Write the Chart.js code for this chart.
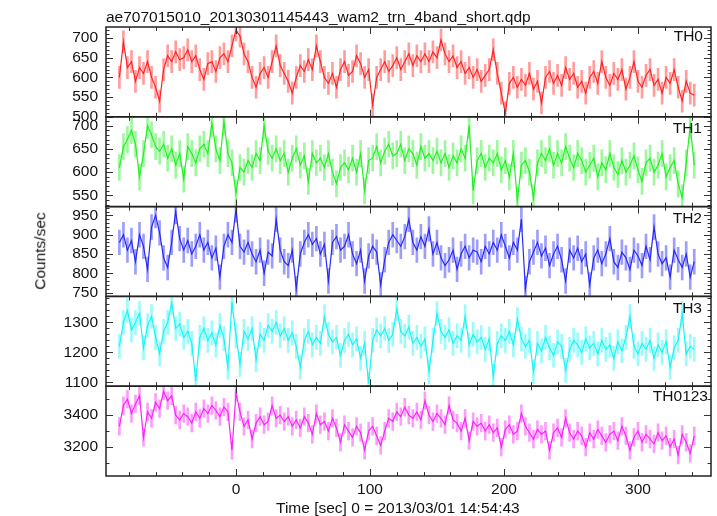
<!DOCTYPE html>
<html>
<head>
<meta charset="utf-8">
<script src="https://cdn.jsdelivr.net/npm/chart.js@4.4.1/dist/chart.umd.min.js"></script>
<style>
  body { margin: 0; background: #fff; }
  #wrap { position: relative; width: 717px; height: 516px; font-family: "Liberation Sans", Arial, sans-serif; color: #111; }
  canvas { position: absolute; left: 0; top: 0; }
  .lbl { position: absolute; font-size: 15.5px; line-height: 1; white-space: nowrap; }
</style>
</head>
<body>
<div id="wrap">
  <canvas id="lc" width="717" height="516"></canvas>
  <div class="lbl" style="left:106px; top:9px">ae707015010_20130301145443_wam2_trn_4band_short.qdp</div>
  <div class="lbl" style="left:40px; top:251px; transform: translate(-50%, -50%) rotate(-90deg)">Counts/sec</div>
  <div class="lbl" style="left:276px; top:500px">Time [sec] 0 = 2013/03/01 14:54:43</div>
  <div class="lbl" style="right:14px; top:28px">TH0</div>
  <div class="lbl" style="right:15px; top:120px">TH1</div>
  <div class="lbl" style="right:15px; top:210px">TH2</div>
  <div class="lbl" style="right:15px; top:300px">TH3</div>
  <div class="lbl" style="right:9px; top:388px">TH0123</div>
</div>
<script>
// light curve bins: start time and width (sec from 2013/03/01 14:54:43)
const binStart = -87;
const binSize = 3;

// count rates, one array per band
const th0Rate = [
  600, 690, 625, 640, 590, 625, 610, 640, 600, 575, 540, 620,
  655, 640, 665, 645, 650, 670, 640, 655, 620, 595, 635, 640,
  615, 650, 660, 640, 680, 720, 705, 660, 640, 600, 575, 610,
  625, 600, 640, 680, 630, 610, 590, 560, 600, 630, 615, 645,
  620, 680, 640, 600, 585, 610, 575, 620, 640, 605, 615, 655,
  635, 600, 620, 530, 600, 620, 640, 615, 630, 650, 620, 640,
  660, 630, 655, 640, 660, 640, 665, 650, 695, 660, 640, 655,
  625, 640, 610, 625, 600, 620, 590, 605, 620, 670, 610, 560,
  510, 585, 600, 575, 595, 580, 610, 570, 590, 535, 600, 615,
  585, 605, 580, 625, 595, 610, 575, 590, 560, 600, 615, 585,
  640, 600, 580, 610, 595, 620, 570, 600, 640, 590, 575, 605,
  620, 580, 595, 560, 600, 585, 620, 575, 540, 590, 560, 555
];
const th1Rate = [
  610, 655, 670, 690, 660, 590, 640, 700, 680, 655, 645, 660,
  630, 650, 615, 640, 585, 655, 640, 620, 650, 660, 640, 705,
  650, 625, 710, 640, 620, 555, 610, 600, 625, 610, 640, 625,
  700, 645, 630, 650, 625, 640, 600, 630, 650, 615, 635, 580,
  640, 620, 630, 610, 640, 600, 575, 610, 620, 605, 630, 600,
  640, 560, 625, 630, 655, 620, 645, 660, 635, 640, 660, 625,
  650, 640, 615, 655, 630, 640, 625, 645, 620, 640, 610, 635,
  620, 650, 630, 700, 560, 625, 640, 610, 630, 620, 640, 605,
  625, 590, 640, 540, 615, 625, 600, 545, 620, 640, 625, 650,
  615, 640, 620, 655, 630, 610, 640, 625, 600, 615, 630, 590,
  620, 605, 640, 610, 595, 625, 600, 615, 635, 605, 580, 620,
  630, 600, 615, 640, 590, 610, 625, 575, 545, 620, 700, 615
];
const th2Rate = [
  880, 900, 860, 885, 830, 900, 870, 810, 920, 950, 905, 840,
  815, 880, 960, 890, 860, 885, 850, 870, 900, 860, 880, 840,
  865, 790, 870, 900, 880, 965, 870, 855, 880, 850, 830, 860,
  800, 855, 845, 940, 860, 830, 820, 860, 760, 850, 880, 900,
  875, 890, 850, 875, 780, 880, 895, 860, 870, 900, 850, 825,
  860, 780, 845, 870, 855, 770, 835, 880, 900, 885, 870, 895,
  940, 880, 860, 895, 870, 915, 850, 880, 840, 820, 835, 860,
  810, 850, 870, 840, 860, 855, 830, 870, 850, 880, 860, 900,
  870, 840, 880, 860, 940, 760, 830, 855, 880, 845, 865, 820,
  850, 870, 835, 780, 860, 840, 865, 830, 850, 770, 840, 860,
  825, 850, 890, 830, 815, 855, 840, 810, 860, 845, 820, 870,
  835, 920, 850, 825, 840, 790, 860, 835, 815, 850, 790, 830
];
const th3Rate = [
  1220, 1300, 1340, 1275, 1300, 1330, 1215, 1290, 1320, 1250, 1195, 1270,
  1300, 1365, 1280, 1295, 1250, 1270, 1230, 1105, 1250, 1280, 1240, 1265,
  1225, 1290, 1245, 1150, 1370, 1255, 1160, 1270, 1245, 1280, 1175, 1260,
  1240, 1290, 1270, 1300, 1255, 1280, 1240, 1265, 1220, 1150, 1240, 1270,
  1225, 1250, 1230, 1320, 1260, 1235, 1250, 1190, 1240, 1260, 1225, 1245,
  1180, 1230, 1095, 1240, 1275, 1255, 1280, 1240, 1260, 1345, 1270, 1255,
  1285, 1230, 1250, 1220, 1245, 1135, 1240, 1330, 1270, 1250, 1275, 1230,
  1255, 1240, 1320, 1225, 1260, 1235, 1250, 1210, 1245, 1120, 1230, 1255,
  1240, 1270, 1225, 1310, 1245, 1220, 1240, 1135, 1230, 1205, 1250, 1215,
  1190, 1235, 1220, 1140, 1210, 1240, 1225, 1200, 1245, 1215, 1230, 1195,
  1240, 1210, 1225, 1180, 1235, 1205, 1250, 1320, 1220, 1195, 1230, 1210,
  1240, 1180, 1225, 1200, 1235, 1150, 1215, 1240, 1330, 1195, 1220, 1210
];
const th0123Rate = [
  3330, 3460, 3500, 3410, 3470, 3520, 3260, 3420, 3380, 3480, 3440, 3550,
  3490, 3520, 3400, 3370, 3410, 3390, 3350, 3420, 3380, 3440, 3410, 3460,
  3430, 3390, 3450, 3420, 3180, 3540, 3420, 3330, 3370, 3250, 3350, 3390,
  3340, 3360, 3460, 3380, 3400, 3360, 3390, 3330, 3370, 3320, 3390, 3350,
  3280, 3410, 3340, 3360, 3300, 3380, 3320, 3230, 3340, 3300, 3260, 3330,
  3290, 3180, 3300, 3330, 3270, 3210, 3300, 3380, 3360, 3420, 3390, 3450,
  3400, 3380, 3420, 3370, 3490, 3400, 3360, 3410, 3380, 3340, 3460, 3370,
  3350, 3300, 3380, 3240, 3360, 3330, 3350, 3300, 3340, 3290, 3320, 3200,
  3310, 3340, 3280, 3300, 3410, 3330, 3290, 3250, 3310, 3280, 3300, 3180,
  3290, 3320, 3260, 3380, 3290, 3250, 3300, 3270, 3200, 3290, 3250, 3310,
  3270, 3230, 3280, 3300, 3240, 3330, 3270, 3180, 3260, 3300, 3230, 3280,
  3250, 3220, 3290, 3240, 3270, 3200, 3250, 3150, 3280, 3230, 3160, 3270
];

const rates = [th0Rate, th1Rate, th2Rate, th3Rate, th0123Rate];
const rateErr = [28, 28, 32, 40, 55]; // 1-sigma error per bin

// axis ranges and labelled ticks, top panel first
const axisMin = [500, 526, 740, 1087, 3019];
const axisMax = [728, 719, 973, 1387, 3581];
const yTicks = [
  [500, 550, 600, 650, 700],
  [550, 600, 650, 700],
  [750, 800, 850, 900, 950],
  [1100, 1200, 1300],
  [3200, 3400]
];
const majorStep = [50, 50, 50, 100, 200];
const minorStep = [10, 10, 10, 20, 100];
const timeMin = -97, timeMax = 354.5;
const timeTicks = [0, 100, 200, 300];
const timeMajor = 100, timeMinor = 20;

const lineColors = ["rgb(255,35,35)", "rgb(35,240,35)", "rgb(40,40,250)", "rgb(25,245,245)", "rgb(250,35,250)"];
const errColors = ["rgba(255,60,60,0.5)", "rgba(60,240,60,0.5)", "rgba(60,60,250,0.5)", "rgba(60,245,245,0.5)", "rgba(250,60,250,0.5)"];

const tickFont = { family: "'Liberation Sans', Arial, sans-serif", size: 15.5 };

const datasets = [];
const scales = {
  x: {
    type: "linear",
    position: "bottom",
    min: timeMin,
    max: timeMax,
    offset: false,
    afterBuildTicks: (s) => { s.ticks = timeTicks.map((v) => ({ value: v })); },
    afterFit: (s) => { s.height = 40; },
    grid: { display: false, drawTicks: false, offset: false },
    border: { display: false },
    ticks: { padding: 4, font: tickFont, color: "#111", callback: (v) => String(v) }
  }
};

rates.forEach((vals, p) => {
  const id = "y" + p;
  datasets.push({
    type: "line",
    yAxisID: id,
    data: vals.map((v, i) => ({ x: binStart + i * binSize, y: v })),
    borderColor: lineColors[p],
    borderWidth: 1.2,
    pointRadius: 0,
    tension: 0,
    order: 1
  });
  datasets.push({
    type: "bar",
    yAxisID: id,
    data: vals.map((v, i) => ({ x: binStart + i * binSize, y: [v - rateErr[p], v + rateErr[p]] })),
    backgroundColor: errColors[p],
    borderWidth: 0,
    barThickness: 2,
    grouped: false,
    order: 2
  });
  scales[id] = {
    type: "linear",
    position: "left",
    stack: "panels",
    stackWeight: 1,
    weight: 10 - p,
    min: axisMin[p],
    max: axisMax[p],
    afterBuildTicks: (s) => { s.ticks = yTicks[p].map((v) => ({ value: v })); },
    afterFit: (s) => { s.width = 106; },
    grid: { display: false, drawTicks: false },
    border: { display: false },
    ticks: { padding: 8, font: tickFont, color: "#111", autoSkip: false, callback: (v) => String(v) }
  };
});

// clip each band to its own panel, then draw frames and inward ticks
const qdpFrame = {
  id: "qdpFrame",
  beforeDatasetDraw(chart, args) {
    const ys = chart.scales[chart.data.datasets[args.index].yAxisID];
    const a = chart.chartArea;
    chart.ctx.save();
    chart.ctx.beginPath();
    chart.ctx.rect(a.left, ys.top, a.right - a.left, ys.bottom - ys.top);
    chart.ctx.clip();
  },
  afterDatasetDraw(chart) {
    chart.ctx.restore();
  },
  afterDatasetsDraw(chart) {
    const ctx = chart.ctx;
    const a = chart.chartArea;
    const xs = chart.scales.x;
    ctx.save();
    rates.forEach((vals, p) => {
      const ys = chart.scales["y" + p];
      ctx.strokeStyle = "#333";
      ctx.lineWidth = 1;
      ctx.beginPath();
      for (let t = Math.ceil(timeMin / timeMinor) * timeMinor; t <= timeMax; t += timeMinor) {
        const px = Math.round(xs.getPixelForValue(t)) + 0.5;
        const len = t % timeMajor === 0 ? 7 : 4;
        ctx.moveTo(px, ys.top); ctx.lineTo(px, ys.top + len);
        ctx.moveTo(px, ys.bottom); ctx.lineTo(px, ys.bottom - len);
      }
      for (let v = Math.ceil(axisMin[p] / minorStep[p]) * minorStep[p]; v <= axisMax[p]; v += minorStep[p]) {
        const py = Math.round(ys.getPixelForValue(v)) + 0.5;
        const len = v % majorStep[p] === 0 ? 7 : 3.5;
        ctx.moveTo(a.left, py); ctx.lineTo(a.left + len, py);
        ctx.moveTo(a.right, py); ctx.lineTo(a.right - len, py);
      }
      ctx.stroke();
      ctx.strokeStyle = "#222";
      ctx.lineWidth = 1.5;
      ctx.strokeRect(a.left, ys.top, a.right - a.left, ys.bottom - ys.top);
    });
    ctx.restore();
  }
};

new Chart(document.getElementById("lc"), {
  type: "line",
  data: { datasets },
  options: {
    responsive: false,
    animation: false,
    events: [],
    layout: { padding: { top: 27, right: 6, bottom: 0, left: 0 } },
    plugins: { legend: { display: false }, tooltip: { enabled: false }, title: { display: false } },
    scales
  },
  plugins: [qdpFrame]
});
</script>
</body>
</html>
